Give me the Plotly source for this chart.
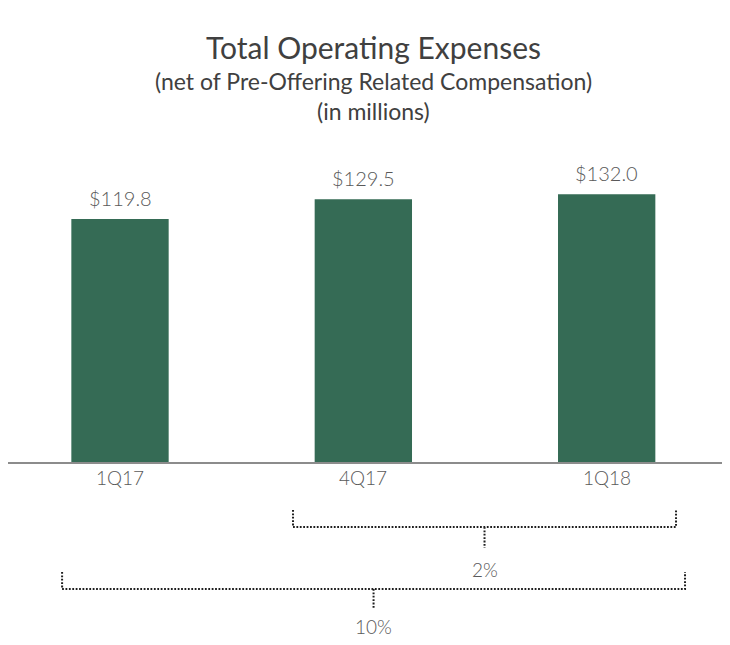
import plotly.graph_objects as go

categories = ["1Q17", "4Q17", "1Q18"]
values = [119.8, 129.5, 132.0]
value_labels = ["$119.8", "$129.5", "$132.0"]
bracket_labels = ["2%", "10%"]
bracket_spans = [(1, 2), (0, 2)]

W, H = 730, 645
M_T, M_B = 130, 191
BASE = H - M_B
PLOT_H = H - M_T - M_B
PX_PER_UNIT = 2.028
YMAX = PLOT_H / PX_PER_UNIT
X0 = -0.4603
XRANGE = [X0, X0 + 3]

BAR = "#356b55"
TXT = "#595959"
FONT = "Lato, 'Open Sans', sans-serif"

fig = go.Figure()
fig.add_trace(go.Bar(
    x=categories, y=values, width=0.4,
    marker=dict(color=BAR, line=dict(width=0)),
    hoverinfo="skip",
))

for c, v, t in zip(categories, values, value_labels):
    fig.add_annotation(x=c, y=v, xref="x", yref="y", text=t, showarrow=False,
                       xanchor="center", yanchor="bottom", yshift=7,
                       font=dict(size=20, color=TXT, family=FONT, weight=300))

def xp(idx):
    return (idx - X0) / 3.0

def yp(px):
    return (BASE - px) / PLOT_H

for i, c in enumerate(categories):
    fig.add_annotation(x=xp(i), y=yp(BASE + 15), xref="paper", yref="paper", text=c,
                       showarrow=False, xanchor="center", yanchor="middle",
                       font=dict(size=19, color=TXT, family=FONT, weight=300))

brackets = [
    dict(span=bracket_spans[0], lpad=-0.289, rpad=0.285, top=502, bot=519, tick=540, lab=561),
    dict(span=bracket_spans[1], lpad=-0.238, rpad=0.322, top=564, bot=581, tick=601, lab=618),
]
shapes = []
for b, lab in zip(brackets, bracket_labels):
    a, c = b["span"]
    xl, xr = xp(a + b["lpad"]), xp(c + b["rpad"])
    xm = (xl + xr) / 2
    path = (f"M {xl},{yp(b['top'])} L {xl},{yp(b['bot'])} L {xr},{yp(b['bot'])} L {xr},{yp(b['top'])} "
            f"M {xm},{yp(b['bot'])} L {xm},{yp(b['tick'])}")
    shapes.append(dict(type="path", xref="paper", yref="paper", path=path,
                       line=dict(color="#1e1e1e", width=2, dash="1.8px,1.6px")))
    fig.add_annotation(x=xm, y=yp(b["lab"]), xref="paper", yref="paper", text=lab,
                       showarrow=False, font=dict(size=19, color=TXT, family=FONT, weight=300),
                       xanchor="center", yanchor="middle")

fig.add_annotation(x=0.5, y=yp(39), xref="paper", yref="paper",
                   text="Total Operating Expenses", showarrow=False,
                   font=dict(size=30, color="#404040", family=FONT), xanchor="center", yanchor="middle")
fig.add_annotation(x=0.5, y=yp(73), xref="paper", yref="paper",
                   text="(net of Pre-Offering Related Compensation)", showarrow=False,
                   font=dict(size=23, color="#404040", family=FONT), xanchor="center", yanchor="middle")
fig.add_annotation(x=0.5, y=yp(103), xref="paper", yref="paper",
                   text="(in millions)", showarrow=False,
                   font=dict(size=23, color="#404040", family=FONT), xanchor="center", yanchor="middle")

fig.update_layout(
    width=W, height=H,
    margin=dict(l=0, r=0, t=M_T, b=M_B),
    paper_bgcolor="white", plot_bgcolor="white",
    showlegend=False, shapes=shapes,
    xaxis=dict(range=XRANGE, showgrid=False, zeroline=False,
               showline=True, linecolor="#8c8c8c", linewidth=2,
               ticks="", showticklabels=False),
    yaxis=dict(range=[0, YMAX], visible=False),
)
fig.write_html("out.html")
